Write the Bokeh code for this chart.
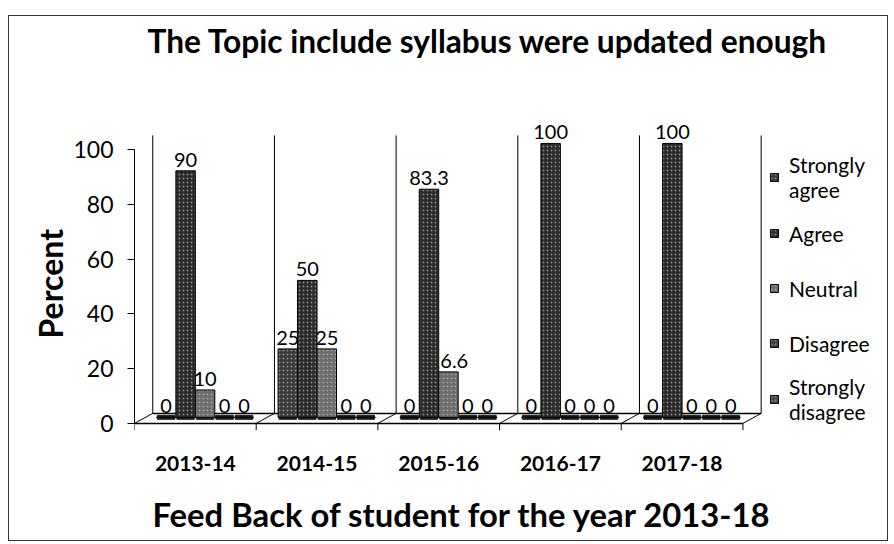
from bokeh.plotting import figure
from bokeh.models import (ColumnDataSource, Range1d, Legend, LegendItem,
                          Title, LinearAxis, FixedTicker)
from bokeh.transform import dodge
from bokeh.embed import file_html
from bokeh.resources import INLINE

# ---------------- data ----------------
years = ["2013-14", "2014-15", "2015-16", "2016-17", "2017-18"]
series_names = ["Strongly\nagree", "Agree", "Neutral", "Disagree", "Strongly\ndisagree"]
strongly_agree = [0, 25, 0, 0, 0]
agree = [90, 50, 83.3, 100, 100]
neutral = [10, 25, 16.6, 0, 0]
disagree = [0, 0, 0, 0, 0]
strongly_disagree = [0, 0, 0, 0, 0]
y_ticks = [0, 20, 40, 60, 80, 100]

title_text = "The Topic include syllabus were updated enough"
x_title = "Feed Back of student for the year 2013-18"
y_title = "Percent"

# ---------------- styles ----------------
FONT = "Lato"
keys = ["sa", "ag", "ne", "di", "sd"]
values = [strongly_agree, agree, neutral, disagree, strongly_disagree]
fills = ["#3a3a3a", "#2b2b2b", "#6c6c6c", "#3f3f3f", "#484848"]
bar_offsets = [-0.32, -0.16, 0.0, 0.16, 0.32]
BAR_W = 0.16
MID_DX = 0.08      # depth shift of bars (category units)
BACK_DX = 0.15     # depth shift of back wall
X_END = 6.18       # plot area extends to the right to hold the legend
Y_BOT = -2.6
Y_TOP = 113.5
MID_DY = 2.2
BACK_DY = 3.65

centers = [i + 0.5 for i in range(len(years))]
data = {"year": years, "xc": centers}
for k, v in zip(keys, values):
    data[k] = v
    data[k + "_lbl"] = [f"{x:g}" for x in v]
src = ColumnDataSource(data)
last = ColumnDataSource({"xc": centers[-1:], "first": centers[:1]})

p = figure(x_range=Range1d(0, X_END), y_range=Range1d(Y_BOT, Y_TOP),
           width=880, height=526, output_backend="svg", toolbar_location=None,
           y_axis_location=None,
           min_border_left=125, min_border_right=3,
           min_border_top=96, min_border_bottom=112)
p.margin = (15, 0, 0, 8)
p.styles = {"border": "1px solid #333"}
p.extra_y_ranges = {"mid": Range1d(Y_BOT - MID_DY, Y_TOP - MID_DY),
                    "back": Range1d(Y_BOT - BACK_DY, Y_TOP - BACK_DY)}
p.xgrid.grid_line_color = None
p.ygrid.grid_line_color = None
p.outline_line_color = None
p.background_fill_color = "white"

# ---------------- axes ----------------
yax = LinearAxis(ticker=FixedTicker(ticks=y_ticks), bounds=(0, 100))
yax.major_tick_out = 7
yax.major_tick_in = 0
yax.minor_tick_line_color = None
yax.axis_line_color = "black"
yax.major_tick_line_color = "black"
yax.major_label_text_font = FONT
yax.major_label_text_font_size = "23px"
yax.major_label_text_color = "black"
yax.major_label_standoff = 14
p.add_layout(yax, "left")

yt = Title(text=y_title, align="left", offset=92, standoff=2, text_font=FONT,
           text_font_style="bold", text_font_size="32px", text_color="black")
p.add_layout(yt, "left")

xax = p.xaxis[0]
xax.ticker = FixedTicker(ticks=centers)
xax.major_label_overrides = {c: y for c, y in zip(centers, years)}
xax.axis_line_color = None
xax.major_tick_line_color = None
xax.minor_tick_line_color = None
xax.major_tick_out = 0
xax.major_label_text_font = FONT
xax.major_label_text_font_style = "bold"
xax.major_label_text_font_size = "21px"
xax.major_label_text_color = "black"
xax.major_label_standoff = 25
xax.axis_label = " "
xax.axis_label_text_font_size = "10px"
xax.axis_label_standoff = 5

p.title.text = title_text
p.title.align = "left"
p.title.offset = 13
p.title.standoff = 4
p.title.text_font = FONT
p.title.text_font_style = "bold"
p.title.text_font_size = "31.7px"
p.title.text_color = "black"
# empty spacer between the title and the plot area
p.add_layout(Title(text=" ", text_font_size="13px", standoff=34), "above")

xt = Title(text=x_title, align="left", offset=18, text_font=FONT, standoff=0,
           text_font_style="bold", text_font_size="32.8px", text_color="black")
p.add_layout(xt, "below")

# ---------------- 3D-ish walls and floor ----------------
def seg(x0f, o0, y0, x1f, o1, y1, source, **kw):
    return p.segment(x0=dodge(x0f, o0), y0=y0, x1=dodge(x1f, o1), y1=y1,
                     source=source, line_color="black", **kw)

# back wall dividers
seg("xc", -0.5 + BACK_DX, 0, "xc", -0.5 + BACK_DX, 101.5, src, y_range_name="back")
seg("xc", 0.5 + BACK_DX, 0, "xc", 0.5 + BACK_DX, 101.5, last, y_range_name="back")
# floor back edge and front edge
seg("first", -0.5 + BACK_DX, BACK_DY, "xc", 0.5 + BACK_DX, BACK_DY, last, line_width=1.5)
seg("first", -0.5, 0, "xc", 0.5, 0, last, line_width=1.5)
# floor depth lines
seg("xc", -0.5, 0, "xc", -0.5 + BACK_DX, BACK_DY, src)
seg("xc", 0.5, 0, "xc", 0.5 + BACK_DX, BACK_DY, last)
# category boundary ticks on the front edge
seg("xc", -0.5, 0, "xc", -0.5, Y_BOT, src)
seg("xc", 0.5, 0, "xc", 0.5, Y_BOT, last)

# ---------------- labels (behind bars like the 3D original) ----------------
for k, off in zip(keys, bar_offsets):
    p.text(x=dodge("xc", off + MID_DX), y=k, text=k + "_lbl",
           source=src, y_range_name="mid", text_align="center",
           text_baseline="alphabetic", y_offset=-11,
           text_font={"value": FONT}, text_font_size="20px", text_color="black")

# ---------------- bars ----------------
items = []
for k, off, col, name in zip(keys, bar_offsets, fills, series_names):
    xs = dodge("xc", off + MID_DX)
    p.rect(x=xs, y=0, width=BAR_W * 0.9, height=4, height_units="screen",
           source=src, y_range_name="mid", fill_color="#222222", line_color="#222222")
    r = p.vbar(x=xs, top=k, bottom=0, width=BAR_W, source=src, y_range_name="mid",
               fill_color=col, line_color="black", line_width=1,
               hatch_pattern="dot", hatch_color="#c8c8c8", hatch_alpha=0.55,
               hatch_scale=4)
    items.append(LegendItem(label=name, renderers=[r]))

legend = Legend(items=items, location=(635, 6), orientation="vertical",
                label_text_font=FONT, label_text_font_size="21px",
                label_text_color="black", label_text_line_height=1.1,
                glyph_width=10, glyph_height=10, label_height=48, spacing=7,
                padding=0, margin=0, label_standoff=10,
                border_line_color=None, background_fill_alpha=0)
p.add_layout(legend, "center")

open("out.html", "w").write(file_html(p, INLINE))
